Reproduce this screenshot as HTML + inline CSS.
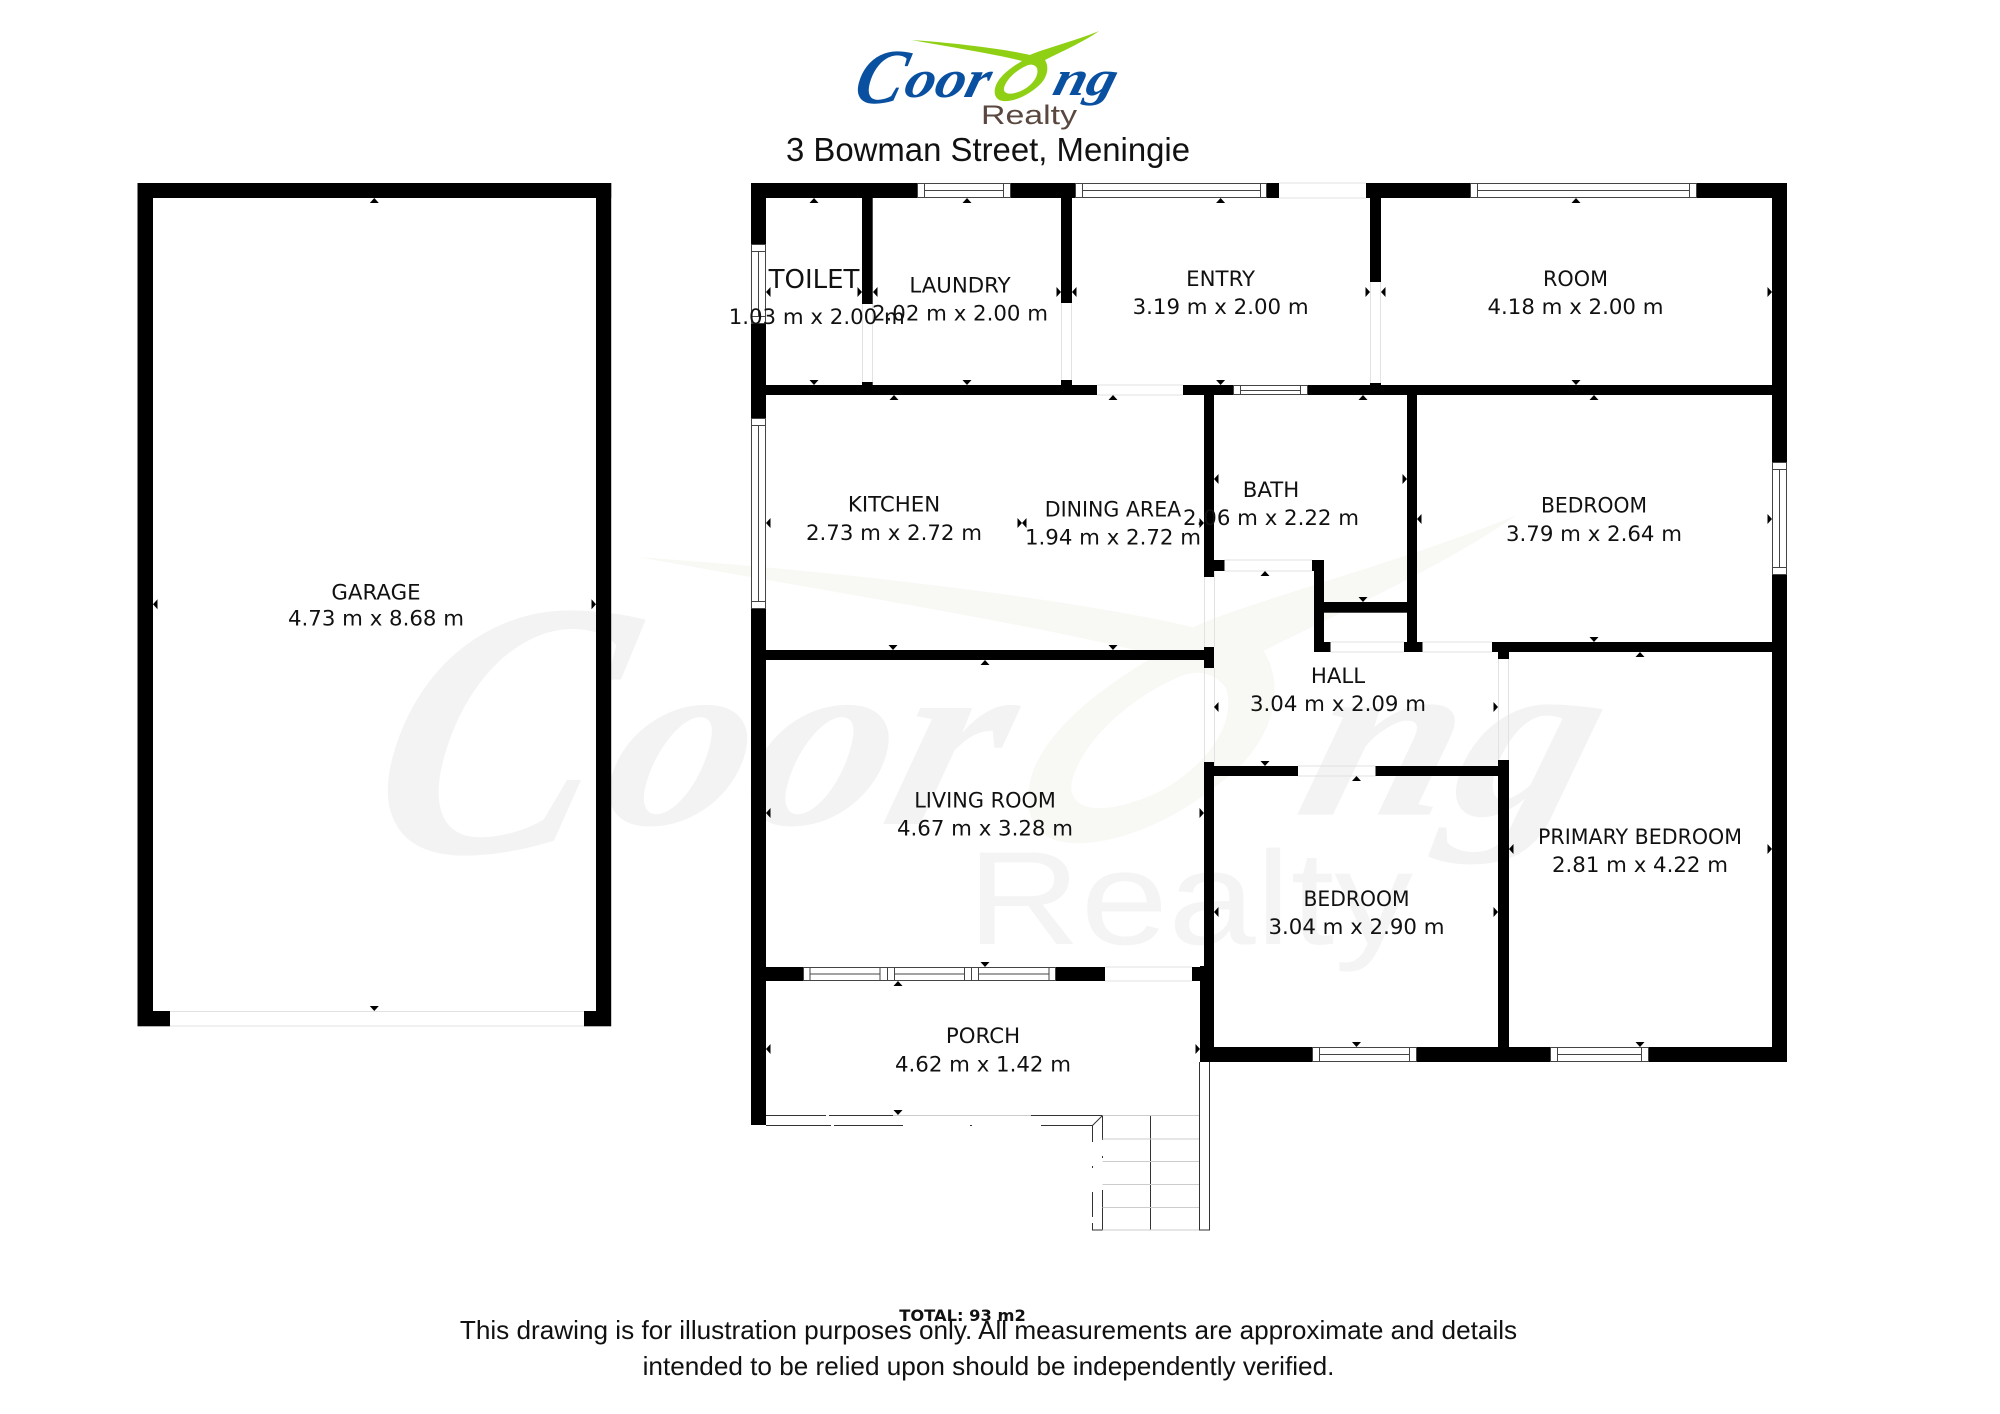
<!DOCTYPE html>
<html><head><meta charset="utf-8"><title>3 Bowman Street, Meningie</title>
<style>
html,body{margin:0;padding:0;background:#fff}
svg{display:block}
.l{font-family:"DejaVu Sans",sans-serif;font-size:21.3px;fill:#111;text-anchor:middle}
.f{font-family:"Liberation Sans",sans-serif;font-size:26.15px;fill:#111;text-anchor:middle}
.s{font-family:"Liberation Serif",serif;font-style:italic;font-weight:bold}
</style></head><body>
<svg width="2000" height="1414" viewBox="0 0 2000 1414" xmlns="http://www.w3.org/2000/svg">
<rect width="2000" height="1414" fill="#fff"/>

<!-- watermark -->
<g transform="translate(-3627 370) scale(4.68)">
<path fill="#f8f8f4" fill-rule="evenodd" d="M911.7 40C955 43 1005 49 1030 55C1040 50 1075 41 1099 31C1085 41 1065 50 1045 60C1050 68 1047 80 1036 88C1025 97 1012 102 1003 101C995 100 993 93 996 85C1000 76 1010 68 1022 61C1000 55 950 47 911.7 40ZM1037 68C1034 64 1030 64 1026 66C1015 71 1006 80 1004 88C1003 94 1010 95 1018 92C1028 89 1040 78 1037 68Z"/>
<text class="s" transform="translate(851 103) skewX(-15)" font-size="78" textLength="48" lengthAdjust="spacingAndGlyphs" fill="#f3f3f3">C</text>
<text class="s" transform="translate(902 97) skewX(-15)" font-size="54" textLength="84" lengthAdjust="spacingAndGlyphs" fill="#f3f3f3">oor</text>
<text class="s" transform="translate(1051 95) skewX(-15)" font-size="50" textLength="62" lengthAdjust="spacingAndGlyphs" fill="#f3f3f3">ng</text>
</g>
<text x="967" y="944" font-family="Liberation Sans,sans-serif" font-size="133" textLength="446" lengthAdjust="spacingAndGlyphs" fill="#f4f4f4">Realty</text>

<!-- logo -->
<path fill="#8fd014" fill-rule="evenodd" d="M911.7 40C955 43 1005 49 1030 55C1040 50 1075 41 1099 31C1085 41 1065 50 1045 60C1050 68 1047 80 1036 88C1025 97 1012 102 1003 101C995 100 993 93 996 85C1000 76 1010 68 1022 61C1000 55 950 47 911.7 40ZM1037 68C1034 64 1030 64 1026 66C1015 71 1006 80 1004 88C1003 94 1010 95 1018 92C1028 89 1040 78 1037 68Z"/>
<text class="s" transform="translate(851 103) skewX(-15)" font-size="78" textLength="48" lengthAdjust="spacingAndGlyphs" fill="#0a50a0">C</text>
<text class="s" transform="translate(902 97) skewX(-15)" font-size="54" textLength="84" lengthAdjust="spacingAndGlyphs" fill="#0a50a0">oor</text>
<text class="s" transform="translate(1051 95) skewX(-15)" font-size="50" textLength="62" lengthAdjust="spacingAndGlyphs" fill="#0a50a0">ng</text>
<text x="981" y="124" font-family="Liberation Sans,sans-serif" font-size="27" textLength="96" lengthAdjust="spacingAndGlyphs" fill="#5a4840">Realty</text>
<text x="786" y="161" font-family="Liberation Sans,sans-serif" font-size="32.9" fill="#111">3 Bowman Street, Meningie</text>

<!-- walls -->
<g fill="#000">
<rect x="137.5" y="183" width="473.7" height="15"/>
<rect x="137.5" y="183" width="15.5" height="843.3"/>
<rect x="596" y="183" width="15.2" height="843.3"/>
<rect x="153" y="1011" width="17" height="15.3"/>
<rect x="584" y="1011" width="12" height="15.3"/>

<rect x="751" y="183" width="528" height="15"/>
<rect x="1366" y="183" width="421" height="15"/>
<rect x="1772" y="183" width="15" height="879"/>
<rect x="751" y="183" width="15" height="942"/>
<rect x="862" y="198" width="10.7" height="106"/>
<rect x="862" y="382" width="10.7" height="3"/>
<rect x="1061" y="198" width="11" height="105"/>
<rect x="1061" y="380" width="11" height="5"/>
<rect x="1370" y="198" width="11" height="84"/>
<rect x="1370" y="383" width="11" height="2"/>
<rect x="766" y="385" width="331" height="10"/>
<rect x="1183" y="385" width="589" height="10"/>
<rect x="1204" y="395" width="10" height="182"/>
<rect x="1214" y="560" width="10.5" height="11"/>
<rect x="1312" y="560" width="12" height="11"/>
<rect x="1314" y="560" width="10" height="92"/>
<rect x="1324" y="642" width="6.5" height="10"/>
<rect x="1324" y="602" width="83" height="10.7"/>
<rect x="1407" y="395" width="10" height="257"/>
<rect x="1404" y="642" width="18.5" height="10"/>
<rect x="1492" y="642" width="280" height="10"/>
<rect x="1498" y="652" width="11" height="7"/>
<rect x="1498" y="760" width="11" height="302"/>
<rect x="1204" y="762" width="10" height="204"/>
<rect x="1200" y="966" width="14" height="96"/>
<rect x="1214" y="766" width="84" height="10"/>
<rect x="1375.5" y="766" width="123" height="10"/>
<rect x="766" y="650" width="438" height="10"/>
<rect x="1204" y="647" width="10" height="21"/>
<rect x="766" y="967" width="37" height="14"/>
<rect x="1056" y="967" width="49" height="14"/>
<rect x="1192" y="967" width="8" height="14"/>
<rect x="1200" y="1047" width="587" height="15"/>
</g>

<!-- door light lines -->
<path fill="none" stroke="#e2e2e2" stroke-width="1" d="M170 1011.5H584M170 1026H584
M1279 183H1366M1279 198H1366
M1097 385H1183M1097 395H1183
M1224.5 560H1312M1224.5 571H1312
M1330.5 642H1404M1330.5 652H1404
M1422.5 642H1492M1422.5 652H1492
M1298 766H1375.5M1298 776H1375.5
M1105 967H1192M1105 981H1192
M862.5 304V382M872.5 304V382
M1061.5 303V380M1071.5 303V380
M1370.5 282V383M1380.5 282V383
M1498.5 659V760M1508.5 659V760
M1204.5 577V647M1214.5 571V647M1204.5 668V762M1214.5 668V766"/>

<!-- windows -->
<g fill="#fff" stroke="#444" stroke-width="1">
<path d="M917.5 183.5h93v14h-93zM924.5 183.5v14M1003.5 183.5v14M924.5 190.5h79"/>
<path d="M1075.5 183.5h191v14h-191zM1082.5 183.5v14M1260.5 183.5v14M1082.5 190.5h178"/>
<path d="M1470.5 183.5h226v14h-226zM1477.5 183.5v14M1689.5 183.5v14M1477.5 190.5h212"/>
<path d="M1233.5 385.5h74v9h-74zM1240.5 385.5v9M1300.5 385.5v9M1240.5 390.5h60"/>
<path d="M1312.5 1047.5h104v14h-104zM1319.5 1047.5v14M1409.5 1047.5v14M1319.5 1054.5h90"/>
<path d="M1550.5 1047.5h98v14h-98zM1557.5 1047.5v14M1641.5 1047.5v14M1557.5 1054.5h84"/>
<path d="M751.5 244.5h14v79h-14zM751.5 251.5h14M751.5 316.5h14M758.5 251.5v65"/>
<path d="M751.5 418.5h14v190h-14zM751.5 425.5h14M751.5 601.5h14M758.5 425.5v176"/>
<path d="M1772.5 462.5h14v112h-14zM1772.5 469.5h14M1772.5 567.5h14M1779.5 469.5v98"/>
<path d="M803.5 967.5h252v13h-252zM810 967.5v13M880 967.5v13M887.5 967.5v13M894.5 967.5v13M964.5 967.5v13M971.5 967.5v13M978.5 967.5v13M1049 967.5v13M810 974h70M894.5 974h70M978.5 974h70.5"/>
</g>

<!-- porch rail and stairs -->
<g fill="none" stroke="#333" stroke-width="1">
<path d="M766 1115.5H826M829 1115.5H893M1031 1115.5H1102.5M766 1125.5H831M834 1125.5H903M970 1125.5H972M1041 1125.5H1093"/>
<path d="M1102.5 1115.5L1092.5 1125.5M1092.5 1126V1142M1092.5 1166V1168M1092.5 1192V1217M1092.5 1223V1230H1102.5M1102.5 1116V1140M1102.5 1156V1158M1102.5 1190V1230M1150.5 1116V1230M1199.5 1062V1230H1209.5V1062"/>
</g>
<path fill="none" stroke="#ccc" stroke-width="1" d="M893 1115.5H1031M1102.5 1115.5H1199M1102.5 1139H1199M1102.5 1161.5H1199M1102.5 1184.5H1199M1102.5 1207.5H1199M1102.5 1230H1199"/>

<!-- arrows -->
<path fill="#000" d="
M374.3 198l-4.5 5h9zM374.3 1011l-4.5-5h9zM153 604.3l4.5-5v10zM596 604.3l-4.5-5v10z
M814 198l-4.5 5h9zM967 198l-4.5 5h9zM1220.6 198l-4.5 5h9zM1576 198l-4.5 5h9z
M814 385l-4.5-5h9zM967 385l-4.5-5h9zM1220.6 385l-4.5-5h9zM1576 385l-4.5-5h9z
M894 395l-4.5 5h9zM1113 395l-4.5 5h9zM1363 395l-4.5 5h9zM1594 395l-4.5 5h9z
M766 292l4.5-5v10zM862 292l-4.5-5v10zM873 292l4.5-5v10zM1061 292l-4.5-5v10zM1072 292l4.5-5v10zM1370 292l-4.5-5v10zM1381 292l4.5-5v10zM1772 292l-4.5-5v10z
M1214 479l4.5-5v10zM1407 479l-4.5-5v10zM1363 602l-4.5-5h9zM1265 571l-4.5 5h9z
M1417 519l4.5-5v10zM1772 519l-4.5-5v10zM1594 642l-4.5-5h9z
M766 523l4.5-5v10zM1022 523l-4.5-5v10zM1022 523l4.5-5v10zM1204 523l-4.5-5v10z
M893 650l-4.5-5h9zM1113 650l-4.5-5h9zM985 660l-4.5 5h9z
M1214 707l4.5-5v10zM1498 707l-4.5-5v10zM1265 766l-4.5-5h9z
M1356.5 776l-4.5 5h9zM1214 912l4.5-5v10zM1498 912l-4.5-5v10zM1356.5 1047l-4.5-5h9z
M1640 652l-4.5 5h9zM1509 849l4.5-5v10zM1772 849l-4.5-5v10zM1640 1047l-4.5-5h9z
M766 813l4.5-5v10zM1204 813l-4.5-5v10zM985 967l-4.5-5h9z
M898 981l-4.5 5h9zM766 1049l4.5-5v10zM1200 1049l-4.5-5v10zM898 1115l-4.5-5h9z"/>

<!-- labels -->
<text class="l" x="376" y="599.5">GARAGE</text><text class="l" x="376" y="625.7">4.73 m x 8.68 m</text>
<text class="l" x="814" y="288" style="font-size:26px">TOILET</text><text class="l" x="816.7" y="324">1.03 m x 2.00 m</text>
<text class="l" x="960" y="292.5">LAUNDRY</text><text class="l" x="960" y="320.5">2.02 m x 2.00 m</text>
<text class="l" x="1220.6" y="286">ENTRY</text><text class="l" x="1220.6" y="314">3.19 m x 2.00 m</text>
<text class="l" x="1575.5" y="286" textLength="65" lengthAdjust="spacingAndGlyphs">ROOM</text><text class="l" x="1575.5" y="314">4.18 m x 2.00 m</text>
<text class="l" x="894" y="511.7">KITCHEN</text><text class="l" x="894" y="540">2.73 m x 2.72 m</text>
<text class="l" x="1113" y="516.7" textLength="136.5" lengthAdjust="spacingAndGlyphs">DINING AREA</text><text class="l" x="1113" y="544.7">1.94 m x 2.72 m</text>
<text class="l" x="1271" y="497">BATH</text><text class="l" x="1271" y="525">2.06 m x 2.22 m</text>
<text class="l" x="1594" y="512.7" textLength="106" lengthAdjust="spacingAndGlyphs">BEDROOM</text><text class="l" x="1594" y="541">3.79 m x 2.64 m</text>
<text class="l" x="1338" y="683">HALL</text><text class="l" x="1338" y="711">3.04 m x 2.09 m</text>
<text class="l" x="985" y="807.7" textLength="141.6" lengthAdjust="spacingAndGlyphs">LIVING ROOM</text><text class="l" x="985" y="835.7">4.67 m x 3.28 m</text>
<text class="l" x="1356.5" y="906" textLength="106" lengthAdjust="spacingAndGlyphs">BEDROOM</text><text class="l" x="1356.5" y="934">3.04 m x 2.90 m</text>
<text class="l" x="1640" y="844" textLength="204" lengthAdjust="spacingAndGlyphs">PRIMARY BEDROOM</text><text class="l" x="1640" y="872">2.81 m x 4.22 m</text>
<text class="l" x="983" y="1043">PORCH</text><text class="l" x="983" y="1071.5">4.62 m x 1.42 m</text>

<!-- footer -->
<text x="962.5" y="1321" font-family="DejaVu Sans,sans-serif" font-weight="bold" font-size="16.3" fill="#111" text-anchor="middle">TOTAL: 93 m2</text>
<text class="f" x="988.5" y="1339">This drawing is for illustration purposes only. All measurements are approximate and details</text>
<text class="f" x="988.5" y="1375">intended to be relied upon should be independently verified.</text>
</svg>
</body></html>
